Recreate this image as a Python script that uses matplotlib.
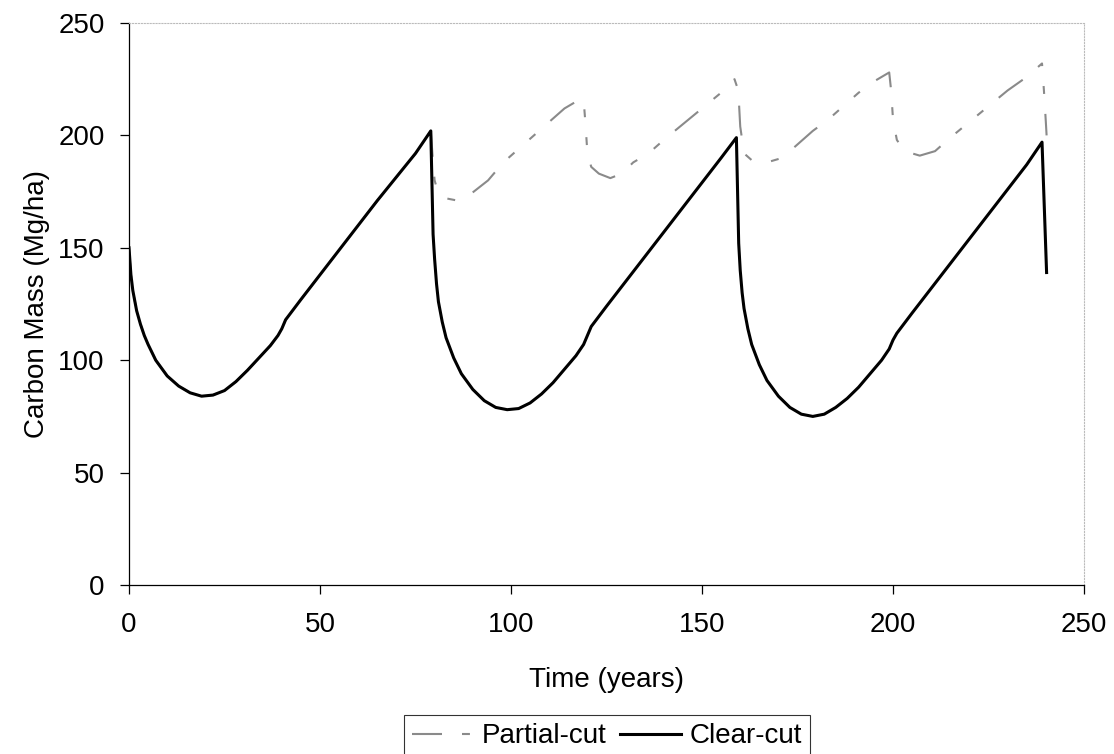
import matplotlib.pyplot as plt

plt.rcParams['font.family'] = ['Liberation Sans', 'DejaVu Sans']

# Data
# first rotation is the same for both treatments
cycle1_t = [0, 0.5, 1, 2, 3, 4, 5, 7, 10, 13, 16, 19, 22, 25, 28, 31, 34, 37, 39, 40, 41,
            45, 50, 55, 60, 65, 70, 75, 79]
cycle1_c = [150, 138, 131, 122, 116, 111, 107, 100, 93, 88.5, 85.5, 84, 84.5, 86.5, 90.5, 95.5,
            101, 106.5, 111, 114, 118, 127, 138, 149, 160, 171, 181.5, 192, 202]

clear_t = cycle1_t + [79.6, 80, 80.5, 81, 82, 83, 85, 87, 90, 93, 96, 99, 102, 105, 108, 111, 114,
                      117, 119, 120, 121, 125, 130, 135, 140, 145, 150, 155, 159,
                      159.6, 160, 160.5, 161, 162, 163, 165, 167, 170, 173, 176, 179, 182, 185,
                      188, 191, 194, 197, 199, 200, 201, 205, 210, 215, 220, 225, 230, 235, 239,
                      240.2]
clear_c = cycle1_c + [156, 145, 134, 126, 117, 110, 101, 94, 87, 82, 79, 78, 78.5, 81, 85, 90, 96,
                      102, 107, 111, 115, 124, 135, 146, 157, 168, 179, 190, 199,
                      152, 140, 130, 123, 114, 107, 98, 91, 84, 79, 76, 75, 76, 79,
                      83, 88, 94, 100, 105, 109, 112, 121, 132, 143, 154, 165, 176, 187, 197,
                      139]

partial_t = cycle1_t + [79.5, 80, 81, 83, 86, 88, 91, 94, 98, 102, 106, 110, 114, 117, 119,
                        119.5, 120, 121, 123, 126, 129, 132, 136, 140, 145, 150, 155, 158.5,
                        159.5, 160, 161, 163, 167, 171, 175, 179, 183, 187, 191, 195, 199,
                        199.5, 200, 201, 203, 207, 211, 215, 220, 225, 230, 235, 239,
                        239.5, 240, 240.2]
partial_c = cycle1_c + [190, 180, 174, 172, 171, 172, 176, 180, 188, 194, 200, 206, 212, 215, 216,
                        205, 192, 186, 183, 181, 183, 188, 192, 198, 205, 212, 219, 225,
                        220, 204, 192, 189, 188, 190, 196, 202, 207, 213, 219, 224, 228,
                        220, 207, 198, 193, 191, 193, 199, 206, 213, 220, 226, 232,
                        220, 206, 200]

fig = plt.figure(figsize=(11.14, 7.54), dpi=100)
ax = fig.add_axes([0.1158, 0.2241, 0.8573, 0.7454])

ax.plot(partial_t, partial_c, color='#8a8a8a', linewidth=1.5,
        linestyle=(0, (14.4, 9.6, 3.8, 9.6, 3.8, 9.6)), label='Partial-cut')
ax.plot(clear_t, clear_c, color='black', linewidth=2.2, label='Clear-cut')

ax.set_xlim(0, 250)
ax.set_ylim(0, 250)
ax.set_xticks([0, 50, 100, 150, 200, 250])
ax.set_yticks([0, 50, 100, 150, 200, 250])
ax.tick_params(axis='both', labelsize=20, length=6.5, width=0.9, direction='out')
ax.tick_params(axis='x', pad=13)
ax.tick_params(axis='y', pad=11)

for side in ['top', 'right']:
    ax.spines[side].set_color('#bbbbbb')
    ax.spines[side].set_linestyle(':')
    ax.spines[side].set_linewidth(0.8)
for side in ['left', 'bottom']:
    ax.spines[side].set_linewidth(0.9)

ax.set_xlabel('Time (years)', fontsize=20)
ax.set_ylabel('Carbon Mass (Mg/ha)', fontsize=20)
ax.xaxis.set_label_coords(0.5, -0.146)
ax.yaxis.set_label_coords(-0.083, 0.5)

leg = fig.legend(loc='upper center', bbox_to_anchor=(0.545, 0.0517), ncol=2, fontsize=20,
                 frameon=True, fancybox=False, edgecolor='black', handlelength=2.2,
                 handletextpad=0.3, columnspacing=0.5, borderpad=0.3, borderaxespad=0)
leg.get_frame().set_linewidth(0.8)

fig.savefig('out.png', dpi=100)
